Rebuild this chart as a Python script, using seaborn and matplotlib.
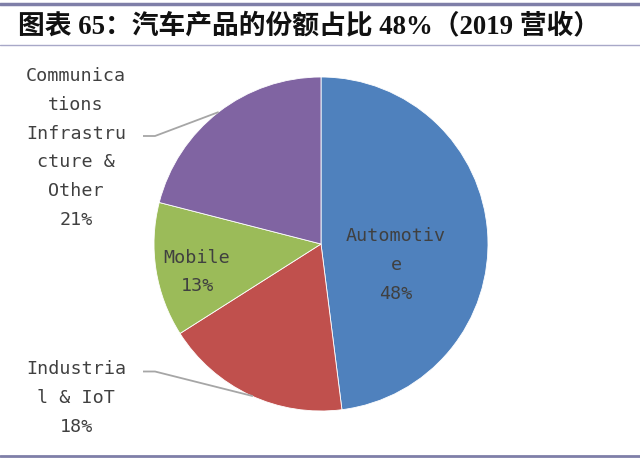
import numpy as np
import matplotlib
matplotlib.use("Agg")
import matplotlib.pyplot as plt
import seaborn as sns

# ---- data ----
categories = ["Automotive", "Industrial & IoT", "Mobile",
              "Communications Infrastructure & Other"]
shares = [48, 18, 13, 21]
label_texts = ["Automotiv\ne\n48%", "Industria\nl & IoT\n18%", "Mobile\n13%",
               "Communica\ntions\nInfrastru\ncture &\nOther\n21%"]
title_text = "图表 65：汽车产品的份额占比 48%（2019 营收）"

colors = ["#4F81BD", "#C0504D", "#9BBB59", "#8064A2"]

sns.set_theme(style="white")
plt.rcParams['font.family'] = ['DejaVu Sans', 'Noto Sans CJK SC']

W, H = 640, 460
fig = plt.figure(figsize=(W / 100, H / 100), dpi=100)
ax = fig.add_axes([0, 0, 1, 1])

cx, cy, R = 321, H - 245, 167
wedges, _ = ax.pie(shares, colors=colors, startangle=90, counterclock=False,
                   center=(cx, cy), radius=R,
                   wedgeprops=dict(edgecolor="white", linewidth=0.6))
ax.set_xlim(0, W)
ax.set_ylim(0, H)
ax.set_aspect("equal")
ax.axis("off")

mono = ['DejaVu Sans Mono']
tc = "#404040"
fs = 13.2

# label positions (pixel coords from top-left)
label_pos = {
    0: (396, 265),
    1: (76, 398),
    2: (197, 272),
    3: (76, 148),
}
for i, (px, py) in label_pos.items():
    ax.text(px, H - py, label_texts[i], ha="center", va="center",
            fontsize=fs, color=tc, family=mono, linespacing=1.76)

# leader lines for outside labels
def edge_point(i):
    w = wedges[i]
    mid = np.deg2rad((w.theta1 + w.theta2) / 2)
    return cx + R * np.cos(mid), cy + R * np.sin(mid)

lc = "#A6A6A6"
ex, ey = edge_point(3)
ax.plot([143, 155, ex], [H - 137, H - 137, ey], color=lc, lw=1.3,
        solid_capstyle="butt")
ex, ey = edge_point(1)
ax.plot([143, 155, ex + 3], [H - 372.5, H - 372.5, ey - 1], color=lc, lw=1.3,
        solid_capstyle="butt")

# title and rules
fig.text(18 / W, 1 - 26 / H, title_text, ha="left", va="center",
         fontsize=19.3, fontweight="bold", color="#111111",
         family=['Liberation Serif', 'Noto Sans CJK SC'])
rule_c = "#7F7FA8"
fig.add_artist(plt.Line2D([0, 1], [1 - 5 / H, 1 - 5 / H], color=rule_c, lw=2.5,
                          transform=fig.transFigure))
fig.add_artist(plt.Line2D([0, 1], [1 - 46 / H, 1 - 46 / H], color="#A8A8C8", lw=1,
                          transform=fig.transFigure))
fig.add_artist(plt.Line2D([0, 1], [1 - 457 / H, 1 - 457 / H], color=rule_c, lw=2,
                          transform=fig.transFigure))

fig.savefig("out.png", dpi=100)
